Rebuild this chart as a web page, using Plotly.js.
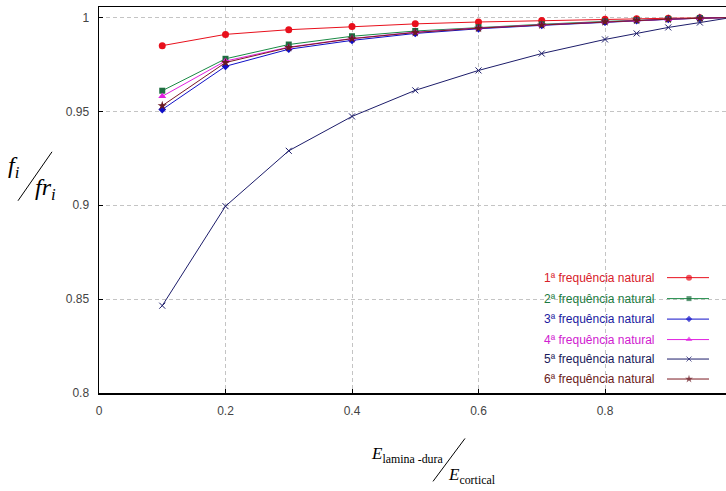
<!DOCTYPE html>
<html>
<head>
<meta charset="utf-8">
<script src="https://cdn.plot.ly/plotly-3.0.1.min.js"></script>
<style>html,body{margin:0;padding:0;background:#fff;}#chart{width:726px;height:491px;}</style>
</head>
<body>
<div id="chart"></div>
<script>
// ---- data ----
var ratio = [0.1, 0.2, 0.3, 0.4, 0.5, 0.6, 0.7, 0.8, 0.85, 0.9, 0.95, 1.0];
var freq1 = [0.985, 0.991, 0.9935, 0.9952, 0.9966, 0.9976, 0.9984, 0.999, 0.9993, 0.9996, 0.9998, 1.0];
var freq2 = [0.961, 0.978, 0.9856, 0.990, 0.9928, 0.9948, 0.9964, 0.9979, 0.9986, 0.9992, 0.9997, 1.0];
var freq3 = [0.951, 0.974, 0.9831, 0.9878, 0.9915, 0.994, 0.9958, 0.9975, 0.9983, 0.999, 0.9996, 1.0];
var freq4 = [0.958, 0.9768, 0.9842, 0.9888, 0.9922, 0.9944, 0.9961, 0.9977, 0.9985, 0.9991, 0.9996, 1.0];
var freq5 = [0.8465, 0.8995, 0.929, 0.9473, 0.9612, 0.9718, 0.9808, 0.9883, 0.9915, 0.9947, 0.9973, 1.0];
var freq6 = [0.953, 0.976, 0.984, 0.9887, 0.992, 0.9943, 0.996, 0.9977, 0.9985, 0.9991, 0.9996, 1.0];
var seriesNames = ["1ª frequência natural", "2ª frequência natural", "3ª frequência natural",
                   "4ª frequência natural", "5ª frequência natural", "6ª frequência natural"];
var xTickVals = [0, 0.2, 0.4, 0.6, 0.8];
var xTickText = ["0", "0.2", "0.4", "0.6", "0.8"];
var yTickVals = [0.8, 0.85, 0.9, 0.95, 1];
var yTickText = ["0.8", "0.85", "0.9", "0.95", "1"];

// ---- styles ----
var allSeries = [freq1, freq2, freq3, freq4, freq5, freq6];
var lineColors = ["#e8101c", "#1a8a45", "#1010c8", "#e020e0", "#1c1c6a", "#7a1a22"];
var markerColors = ["#e8101c", "#1e6e40", "#1010c8", "#e020e0", "#1c1c6a", "#6a1a22"];
var textColors = ["#d8202a", "#1a7a40", "#1a1aa0", "#d020d0", "#1a1a5a", "#6a1a1a"];
var symbols = ["circle", "square", "diamond", "triangle-up", "x-thin", "star"];
var sizes = [7, 6, 6, 7, 6, 7];

var W = 726, H = 491, L = 99, R = 0, T = 7, B = 97.5;
var pw = W - L - R, ph = H - T - B;
function px(x) { return (x - L) / pw; }
function py(y) { return (H - B - y) / ph; }

var traces = [];
for (var i = 0; i < 6; i++) {
  traces.push({
    x: ratio, y: allSeries[i], type: "scatter", mode: "lines+markers",
    name: seriesNames[i], showlegend: false, cliponaxis: false,
    line: {color: lineColors[i], width: 1},
    marker: {symbol: symbols[i], size: sizes[i], color: markerColors[i],
             line: {color: markerColors[i], width: symbols[i] === "x-thin" ? 1 : 0}}
  });
}
// custom legend samples (symbol to the right of text)
var rowsY = [278, 299, 319.5, 340, 359.5, 379.5];
var annotations = [];
for (var j = 0; j < 6; j++) {
  traces.push({
    x: [667, 689, 709], y: [rowsY[j], rowsY[j], rowsY[j]], xaxis: "x2", yaxis: "y2",
    type: "scatter", mode: "lines+markers", showlegend: false, hoverinfo: "skip",
    line: {color: lineColors[j], width: 1},
    marker: {symbol: symbols[j], size: [0, sizes[j] - 1, 0], color: markerColors[j],
             line: {color: markerColors[j], width: symbols[j] === "x-thin" ? 1 : 0}}
  });
  annotations.push({
    xref: "paper", yref: "paper", x: px(657), y: py(rowsY[j]),
    xanchor: "right", yanchor: "middle", showarrow: false,
    text: seriesNames[j],
    font: {family: "Liberation Sans, Arial, sans-serif", size: 12, color: textColors[j]}
  });
}
// axis titles
var serif = "Liberation Serif, Times New Roman, serif";
annotations.push({xref: "paper", yref: "paper", x: px(6), y: py(167), xanchor: "left", yanchor: "middle",
  showarrow: false, text: "<i>f</i><sub><i>i</i></sub>", font: {family: serif, size: 24, color: "#000"}});
annotations.push({xref: "paper", yref: "paper", x: px(33), y: py(189), xanchor: "left", yanchor: "middle",
  showarrow: false, text: "<i>fr</i><sub><i>i</i></sub>", font: {family: serif, size: 24, color: "#000"}});
annotations.push({xref: "paper", yref: "paper", x: px(369), y: py(456), xanchor: "left", yanchor: "middle",
  showarrow: false, text: "<i>E</i><sub>lamina -dura</sub>", font: {family: serif, size: 17, color: "#000"}});
annotations.push({xref: "paper", yref: "paper", x: px(446), y: py(477), xanchor: "left", yanchor: "middle",
  showarrow: false, text: "<i>E</i><sub>cortical</sub>", font: {family: serif, size: 17, color: "#000"}});

var shapes = [
  {type: "rect", xref: "paper", yref: "paper", x0: px(445), x1: px(726), y0: py(389), y1: py(266),
   fillcolor: "#ffffff", line: {width: 0}, layer: "between"},
  {type: "line", xref: "paper", yref: "paper", x0: px(18), y0: py(201), x1: px(52), y1: py(152),
   line: {color: "#000", width: 1}},
  {type: "line", xref: "paper", yref: "paper", x0: px(433), y0: py(482), x1: px(465), y1: py(439),
   line: {color: "#000", width: 1}}
];

var tickFont = {family: "Liberation Sans, Arial, sans-serif", size: 12, color: "#444"};
var layout = {
  width: W, height: H,
  margin: {l: L, r: R, t: T, b: B, pad: 0},
  paper_bgcolor: "#fff", plot_bgcolor: "#fff",
  showlegend: false,
  xaxis: {range: [0, pw / 632.5], tickvals: xTickVals, ticktext: xTickText,
          showgrid: true, gridcolor: "#c4c4c4", griddash: "4px,3px", gridwidth: 1,
          zeroline: false, showline: true, linecolor: "#000", linewidth: 1.5, mirror: true,
          ticks: "inside", ticklen: 4, tickcolor: "#000", tickfont: tickFont, ticklabelstandoff: 6},
  yaxis: {range: [0.8, 0.8 + ph / 1880], tickvals: yTickVals, ticktext: yTickText,
          showgrid: true, gridcolor: "#c4c4c4", griddash: "4px,3px", gridwidth: 1,
          zeroline: false, showline: true, linecolor: "#000", linewidth: 1.5, mirror: false,
          ticks: "inside", ticklen: 4, tickcolor: "#000", tickfont: tickFont, ticklabelstandoff: 6},
  xaxis2: {overlaying: "x", range: [L, W], visible: false, anchor: "y2"},
  yaxis2: {overlaying: "y", range: [H - B, T], visible: false, anchor: "x2"},
  annotations: annotations,
  shapes: shapes
};
Plotly.newPlot("chart", traces, layout, {staticPlot: true, displayModeBar: false});
</script>
</body>
</html>
